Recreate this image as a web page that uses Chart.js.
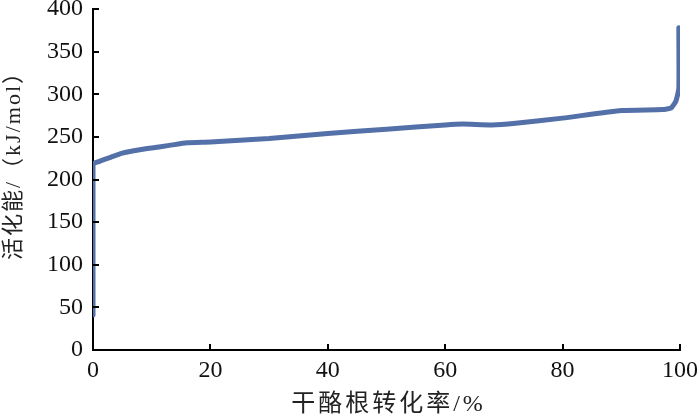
<!DOCTYPE html>
<html>
<head>
<meta charset="utf-8">
<script src="https://cdn.jsdelivr.net/npm/chart.js@4/dist/chart.umd.min.js"></script>
<style>
html,body{margin:0;padding:0;background:#fff}
#wrap{width:700px;height:418px}
</style>
</head>
<body>
<div id="wrap"><canvas id="c" width="700" height="418"></canvas></div>
<script>
// conversion of kerogen (%) vs activation energy (kJ/mol)
const conversion = [0, 0, 0, 1, 3, 5, 8, 10, 13, 16, 20, 30, 40, 50, 60, 63, 68, 72, 80, 90, 97, 98.5, 99.3, 99.8, 99.8]
const energy = [41, 150, 218, 221, 226, 231, 235, 237, 240, 243, 244, 248, 254, 259, 264, 265, 264, 266, 272, 281, 282, 284, 292, 307, 378]

const xTicks = [0, 20, 40, 60, 80, 100]
const yTicks = [0, 50, 100, 150, 200, 250, 300, 350, 400]

const xTitle = "干酪根转化率/%"
const yTitle = "活化能/（kJ/mol）"

const points = conversion.map((x, i) => ({x: x, y: energy[i]}))

const serif = "'Liberation Serif', 'Times New Roman', 'Noto Sans CJK SC', serif"

const innerTicks = {
id: "innerTicks",
afterDraw(chart){
const ctx = chart.ctx
const area = chart.chartArea
const xs = chart.scales.x
const ys = chart.scales.y
ctx.save()
ctx.strokeStyle = "#000"
ctx.lineWidth = 2
xTicks.forEach(v => {
const px = Math.round(xs.getPixelForValue(v))
ctx.beginPath()
ctx.moveTo(px, area.bottom)
ctx.lineTo(px, area.bottom - 6)
ctx.stroke()
})
yTicks.forEach(v => {
const py = Math.round(ys.getPixelForValue(v))
ctx.beginPath()
ctx.moveTo(area.left, py)
ctx.lineTo(area.left + 6, py)
ctx.stroke()
})
ctx.fillStyle = "#222"
ctx.textAlign = "center"
ctx.textBaseline = "middle"
// x axis title, spaced out like the original
ctx.font = "24px " + serif
ctx.letterSpacing = "3px"
ctx.fillText(xTitle, (area.left + area.right) / 2 + 2, 405)
// y axis title, sits a little below the middle of the axis
ctx.translate(14, 160)
ctx.rotate(-Math.PI / 2)
ctx.font = "22px " + serif
ctx.letterSpacing = "2px"
ctx.fillText(yTitle, 0, 0)
ctx.restore()
}
}

new Chart(
document.getElementById("c"),
{
type: "line",
data: {
datasets: [{
data: points,
borderColor: "rgb(84,112,168)",
borderWidth: 5,
pointRadius: 0,
tension: 0.15,
borderCapStyle: "round",
borderJoinStyle: "round",
fill: false
}]
},
options: {
responsive: false,
animation: false,
layout: {padding: {top: 9, right: 20, left: 0, bottom: 0}},
plugins: {legend: {display: false}, tooltip: {enabled: false}},
scales: {
x: {
type: "linear",
min: 0,
max: 100,
afterBuildTicks: s => { s.ticks = xTicks.map(v => ({value: v})) },
afterFit: s => { s.height = 68; s.paddingLeft = 0; s.paddingRight = 0 },
grid: {display: true, drawOnChartArea: false, drawTicks: false},
border: {color: "#000", width: 2},
ticks: {color: "#111", font: {family: serif, size: 24}, padding: 6, maxRotation: 0},
title: {display: false}
},
y: {
type: "linear",
min: 0,
max: 400,
afterBuildTicks: s => { s.ticks = yTicks.map(v => ({value: v})) },
afterFit: s => { s.width = 93; s.paddingTop = 0; s.paddingBottom = 0 },
grid: {display: true, drawOnChartArea: false, drawTicks: false},
border: {color: "#000", width: 2},
ticks: {color: "#111", font: {family: serif, size: 24}, padding: 10},
title: {display: false}
}
}
},
plugins: [innerTicks]
}
)
</script>
</body>
</html>
